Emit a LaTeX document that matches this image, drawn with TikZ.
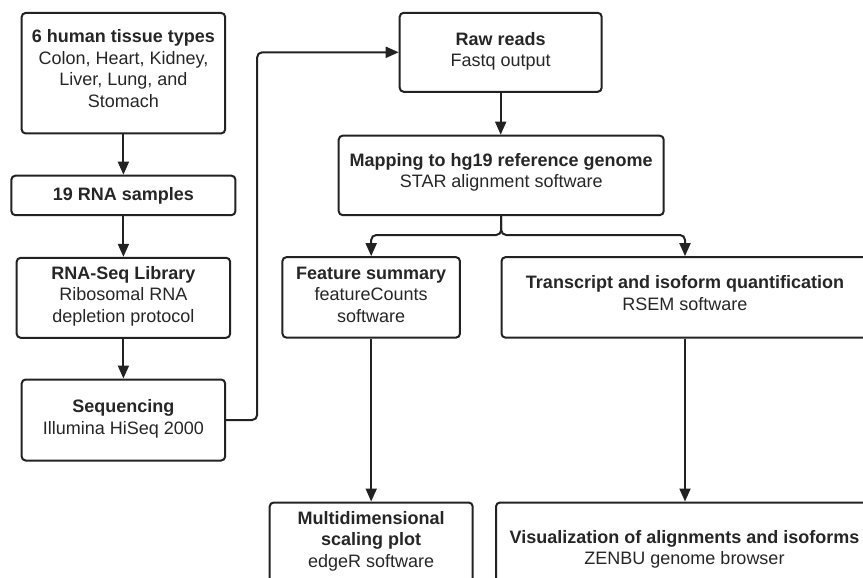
\documentclass[tikz,border=0pt]{standalone}
\usepackage{fontspec}
\setmainfont{Liberation Sans}
\usetikzlibrary{arrows.meta}
\definecolor{linec}{HTML}{222222}
\definecolor{textc}{HTML}{262626}
\begin{document}
\begin{tikzpicture}[x=1pt,y=-1pt,
  box/.style={draw=linec, line width=2pt, rounded corners=4pt, inner sep=0pt},
  txt/.style={text=textc, align=center, inner sep=0pt, font=\fontsize{18}{21.5}\selectfont},
  arr/.style={draw=linec, line width=2pt, -{Triangle[length=13pt,width=11pt]}, rounded corners=5pt}]
\useasboundingbox (0,0) rectangle (863,578);
\clip (0,0) rectangle (863,578);
% boxes
\node[box, minimum width=203.5pt, minimum height=120.5pt] (tissue) at (123.4,73.2) {};
\node[box, minimum width=224pt, minimum height=39.5pt] (rna) at (123.4,195.4) {};
\node[box, minimum width=213.5pt, minimum height=80pt] (lib) at (123.4,297.8) {};
\node[box, minimum width=203.5pt, minimum height=81pt] (seq) at (123.4,420) {};
\node[box, minimum width=202pt, minimum height=79pt] (raw) at (500.7,52.3) {};
\node[box, minimum width=325pt, minimum height=79.5pt] (map) at (501.2,175.4) {};
\node[box, minimum width=177.5pt, minimum height=80.5pt] (feat) at (371.2,297.4) {};
\node[box, minimum width=367pt, minimum height=80.5pt] (trans) at (685,297.4) {};
\node[box, minimum width=203pt, minimum height=100pt] (multi) at (371.2,552.5) {};
\node[box, minimum width=377pt, minimum height=110pt] (vis) at (684.5,557.5) {};
% texts
\node[txt] (tissueT) at (123.4,68.4) {\textbf{6 human tissue types}\\Colon, Heart, Kidney,\\Liver, Lung, and\\Stomach};
\node[txt] (rnaT) at (123.4,196.2) {\textbf{19 RNA samples}};
\node[txt] (libT) at (123.4,296.1) {\textbf{RNA-Seq Library}\\Ribosomal RNA\\depletion protocol};
\node[txt] (seqT) at (123.4,418.6) {\textbf{Sequencing}\\Illumina HiSeq 2000};
\node[txt] (rawT) at (500.7,51.3) {\textbf{Raw reads}\\Fastq output};
\node[txt] (mapT) at (501.2,172.5) {\textbf{Mapping to hg19 reference genome}\\STAR alignment software};
\node[txt] (featT) at (371.2,294.7) {\textbf{Feature summary}\\featureCounts\\software};
\node[txt] (transT) at (685,293.2) {\textbf{Transcript and isoform quantification}\\RSEM software};
\node[txt] (multiT) at (371.2,541.3) {\textbf{Multidimensional}\\\textbf{scaling plot}\\edgeR software};
\node[txt] (visT) at (684.5,549.1) {\textbf{Visualization of alignments and isoforms}\\ZENBU genome browser};
% connectors
\draw[arr] (tissue.south) -- (tissue.south |- rna.north);
\draw[arr] (rna.south) -- (rna.south |- lib.north);
\draw[arr] (lib.south) -- (lib.south |- seq.north);
\draw[arr] (seq.east) -- ++(31,0) |- (raw.west);
\draw[arr] (raw.south) -- (raw.south |- map.north);
\coordinate (split) at (501.2,235);
\draw[arr] (map.south) -- (split) -| (feat.north);
\draw[arr] (map.south) -- (split) -| (trans.north);
\draw[arr] (feat.south) -- (feat.south |- multi.north);
\draw[arr] (trans.south) -- (trans.south |- vis.north);
\end{tikzpicture}
\end{document}
